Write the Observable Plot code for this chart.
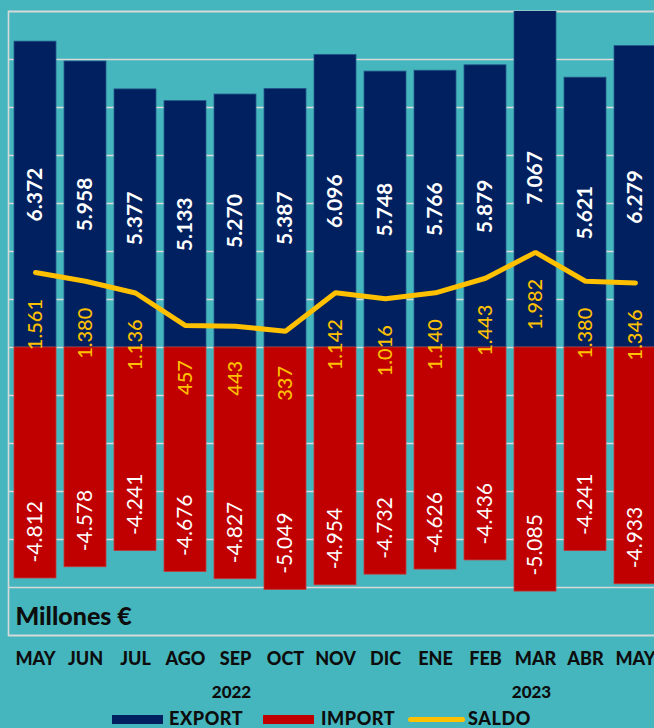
<!DOCTYPE html>
<html>
<head>
<meta charset="utf-8">
<script src="https://cdn.jsdelivr.net/npm/d3@7"></script>
<script src="https://cdn.jsdelivr.net/npm/@observablehq/plot@0.6"></script>
<style>
  html, body { margin: 0; padding: 0; background: #45B6BD; overflow: hidden; width: 654px; height: 728px; }
  #wrap { position: relative; width: 654px; height: 728px; overflow: hidden; }
  #legend { position: absolute; left: 0; top: 700px; width: 654px; height: 28px;
            font-family: Lato, "Open Sans", sans-serif; font-weight: 900; font-size: 18px; color: #0d0d0d; }
  #legend .sw { position: absolute; }
  #legend .lb { position: absolute; top: 7px; line-height: 22px; letter-spacing: 0.6px; }
</style>
</head>
<body>
<div id="wrap">
  <div id="chart"></div>
  <div id="legend"></div>
</div>
<script>
// ---- data ----
const months = ["MAY","JUN","JUL","AGO","SEP","OCT","NOV","DIC","ENE","FEB","MAR","ABR","MAY"];
const years  = ["2022","2022","2022","2022","2022","2022","2022","2022","2023","2023","2023","2023","2023"];
const exportVals = [6372, 5958, 5377, 5133, 5270, 5387, 6096, 5748, 5766, 5879, 7067, 5621, 6279];
const importVals = [-4812, -4578, -4241, -4676, -4827, -5049, -4954, -4732, -4626, -4436, -5085, -4241, -4933];
const saldoVals  = [1561, 1380, 1136, 457, 443, 337, 1142, 1016, 1140, 1443, 1982, 1380, 1346];
const yearLabels = ["2022", "2023"];
const yearLabelMonth = ["SEP-2022", "MAR-2023"];
const yTicks = d3.range(-6000, 7001, 1000);
const seriesNames = ["EXPORT", "IMPORT", "SALDO"];
const unitLabel = "Millones €";

// ---- build ----
const keys = months.map((m, i) => m + "-" + years[i]);
const data = keys.map((k, i) => ({key: k, month: months[i], exp: exportVals[i], imp: importVals[i], saldo: saldoVals[i]}));
const yearData = yearLabels.map((t, i) => ({key: yearLabelMonth[i], text: t}));
const loc = d3.formatLocale({decimal: ",", thousands: ".", grouping: [3], currency: ["", "€"], minus: "-"});
const fmt = loc.format(",");

const NAVY = "#002060", RED = "#C00000", YELLOW = "#FFC000", GRID = "#D9D9D9", INK = "#0d0d0d";
const FONT = "Lato, 'Open Sans', sans-serif";

const chart = Plot.plot({
  width: 654,
  height: 700,
  marginTop: 11,
  marginBottom: 65,
  marginLeft: 8,
  marginRight: -14,
  style: {background: "transparent", fontFamily: FONT, overflow: "visible"},
  x: {domain: keys, range: [8, 662], paddingInner: 0.165, paddingOuter: 0.08, axis: null},
  y: {domain: [-6000, 7000], axis: null},
  marks: [
    Plot.ruleY(yTicks, {stroke: GRID, strokeWidth: 1.6}),
    Plot.frame({stroke: GRID, strokeWidth: 1.6}),
    Plot.barY(data, {x: "key", y: "exp", fill: NAVY, stroke: "#24578a", strokeWidth: 0.8, clip: true}),
    Plot.barY(data, {x: "key", y: "imp", fill: RED, stroke: "#c43a3a", strokeWidth: 0.8}),
    Plot.line(data, {x: "key", y: "saldo", stroke: YELLOW, strokeWidth: 5, strokeLinecap: "round", strokeLinejoin: "miter"}),
    Plot.text(data, {x: "key", y: d => d.exp / 2, text: d => fmt(d.exp), rotate: -90,
      fill: "white", fontWeight: "bold", fontSize: 21}),
    Plot.text(data, {x: "key", y: "imp", text: d => fmt(d.imp), rotate: -90, textAnchor: "start",
      dy: -16, fill: "white", fontSize: 21}),
    Plot.text(data, {x: "key", y: "saldo", text: d => fmt(d.saldo), rotate: -90, dy: 52,
      fill: YELLOW, fontSize: 20, fontWeight: 500}),
    Plot.text(data, {x: "key", text: "month", frameAnchor: "bottom", dy: 24,
      fill: INK, fontWeight: 900, fontSize: 18, lineAnchor: "middle"}),
    Plot.text(yearData, {x: "key", text: "text", frameAnchor: "bottom", dy: 57, dx: -4,
      fill: INK, fontWeight: 900, fontSize: 17, lineAnchor: "middle"}),
    Plot.text([unitLabel], {frameAnchor: "bottom-left", dx: 7, dy: -19, textAnchor: "start",
      lineAnchor: "middle", fill: INK, fontWeight: 900, fontSize: 25})
  ]
});
document.getElementById("chart").appendChild(chart);

// ---- legend ----
const legend = document.getElementById("legend");
const items = [
  {name: seriesNames[0], color: NAVY, kind: "bar", sx: 112, tx: 169},
  {name: seriesNames[1], color: RED, kind: "bar", sx: 263, tx: 321},
  {name: seriesNames[2], color: YELLOW, kind: "line", sx: 408, tx: 468}
];
items.forEach(it => {
  const sw = document.createElement("div");
  sw.className = "sw";
  sw.style.left = it.sx + "px";
  sw.style.width = (it.kind === "bar" ? 51 : 57) + "px";
  if (it.kind === "bar") { sw.style.top = "15px"; sw.style.height = "9px"; }
  else { sw.style.top = "17px"; sw.style.height = "5px"; sw.style.borderRadius = "3px"; }
  sw.style.background = it.color;
  legend.appendChild(sw);
  const lb = document.createElement("div");
  lb.className = "lb";
  lb.style.left = it.tx + "px";
  lb.textContent = it.name;
  legend.appendChild(lb);
});
</script>
</body>
</html>
